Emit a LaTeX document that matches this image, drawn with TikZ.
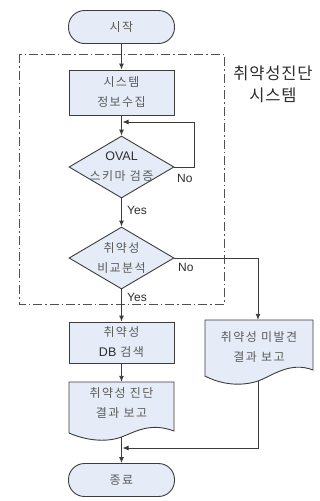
\documentclass[tikz,border=0pt]{standalone}
\usepackage{fontspec}
\setmainfont{Liberation Sans}
\newfontfamily\kr[LetterSpace=12]{Noto Sans CJK KR}
\newfontfamily\krt[LetterSpace=5]{Noto Sans CJK KR}
\usetikzlibrary{arrows.meta,shapes.geometric}
\definecolor{boxfill}{RGB}{230,236,247}
\definecolor{edge}{RGB}{60,60,60}
\definecolor{txt}{RGB}{90,90,90}
\definecolor{labc}{RGB}{45,45,45}
\begin{document}
\begin{tikzpicture}[x=1pt,y=-1pt,
  boxtext/.style={text=txt, align=center, font=\kr\fontsize{12}{20}\selectfont},
  base/.style={draw=edge, line width=0.9pt, fill=boxfill, boxtext},
  term/.style={base, minimum width=106pt, minimum height=33pt, rounded corners=16pt, inner sep=0pt},
  proc/.style={base, minimum width=105pt, inner sep=0pt},
  dec/.style={base, diamond, minimum width=105pt, minimum height=62pt, inner sep=0pt},
  doctext/.style={boxtext, minimum width=105pt, inner sep=0pt},
  flow/.style={draw=edge, line width=0.9pt, -{Latex[length=6pt,width=5pt]}},
  lab/.style={font=\fontsize{12}{14}\selectfont, text=labc, anchor=west, inner sep=0pt},
  latin/.style={}
]
\useasboundingbox (0,0) rectangle (320,501);

% system frame
\draw[draw=edge!90, line width=0.9pt, dash pattern=on 9pt off 3pt on 1.5pt off 3pt] (19,54) rectangle (224,304);
\node[font=\krt\fontsize{16.5}{22}\selectfont, text=labc, align=center, inner sep=0pt] (title) at (273,84) {취약성진단\\시스템};

% nodes
\node[term] (start) at (121.5,27) {시작};
\node[proc, minimum height=45pt] (p1) at (121.5,92.5) {시스템\\정보수집};
\node[dec, label={[boxtext]center:{\fontspec{Liberation Sans}\color{labc}\fontsize{12.5}{20}\selectfont OVAL}\\스키마 검증}] (d1) at (121.5,167) {};
\node[dec, label={[boxtext]center:취약성\\비교분석}] (d2) at (121.5,258) {};
\node[proc, minimum height=41pt] (p2) at (121.5,342.5) {취약성\\{\fontspec{Liberation Sans}\color{labc}\fontsize{12.5}{20}\selectfont DB} 검색};

% documents
\draw[base] (69,382) -- (174,382) -- (174,431) .. controls (150,422) and (135,432) .. (121.5,437) .. controls (105,443) and (85,440) .. (69,433) -- cycle;
\node[doctext, minimum height=42pt] (doc1) at (121.5,403) {취약성 진단\\결과 보고};
\coordinate (doc1b) at (121.5,437);

\draw[base] (205,320) -- (313,320) -- (313,370) .. controls (290,361) and (272,376) .. (258,381) .. controls (240,387) and (220,384) .. (205,376) -- cycle;
\node[doctext, minimum width=108pt, minimum height=54pt] (doc2) at (259,347) {취약성 미발견\\결과 보고};
\coordinate (doc2b) at (258,381);

\node[term] (end) at (121.5,480) {종료};

% helper coordinates
\coordinate (loopR) at (194,167);
\coordinate (loopT) at (194,122);
\coordinate (loopIn) at (122.5,122);
\coordinate (noR) at (258,258);
\coordinate (mergeC) at (258,448);
\coordinate (mergeIn) at (122.5,448);

% connectors
\draw[flow] (start) -- (p1);
\draw[flow] (p1) -- (d1);
\draw[flow] (d1.east) -- (loopR) -- (loopT) -- (loopIn);
\draw[flow] (d1) -- (d2);
\draw[flow] (d2.east) -- (noR) -- (doc2.north -| noR);
\draw[flow] (d2) -- (p2);
\draw[flow] (p2) -- (doc1);
\draw[flow] (doc1b) -- (end);
\draw[flow] (doc2b) -- (mergeC) -- (mergeIn);

% labels
\node[lab] (no1) at (177,178) {No};
\node[lab] (yes1) at (127,210) {Yes};
\node[lab] (no2) at (178,267) {No};
\node[lab] (yes2) at (127,297) {Yes};
\end{tikzpicture}
\end{document}
